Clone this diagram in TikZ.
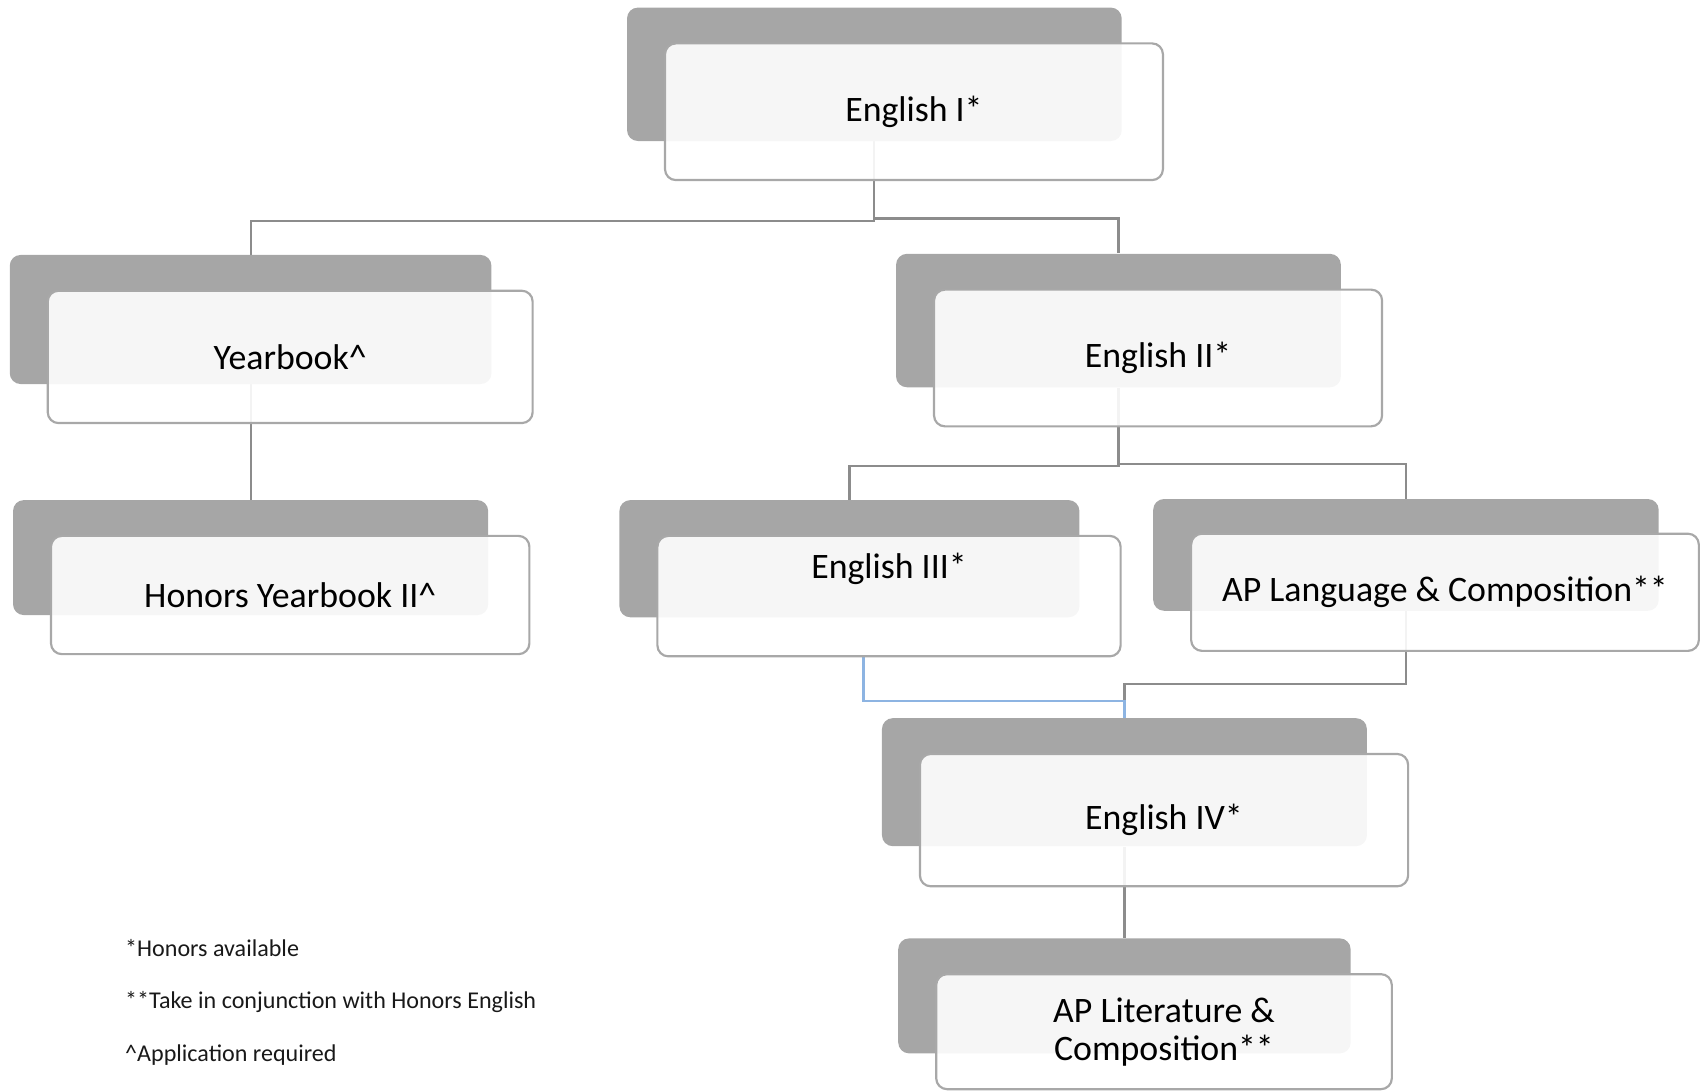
\documentclass[tikz,border=0pt]{standalone}
\usepackage{fontspec}
\setmainfont{Carlito}
\usetikzlibrary{backgrounds}
\definecolor{backgrey}{RGB}{166,166,166}
\definecolor{edgegrey}{RGB}{168,168,168}
\definecolor{linkgrey}{RGB}{140,140,140}
\definecolor{linkblue}{RGB}{141,180,226}
\tikzset{
    back/.style={fill=backgrey, rounded corners=5pt, inner sep=0pt},
    card/.style={draw=edgegrey, line width=1pt, fill=white, fill opacity=0.9, text opacity=1,
        rounded corners=5pt, inner sep=0pt, align=center, font=\fontsize{16.5}{17.5}\selectfont},
    lbl/.style={inner sep=0pt, font=\fontsize{16.5}{17.5}\selectfont},
    link/.style={draw=linkgrey, line width=1pt},
    note/.style={anchor=west, inner sep=0pt, text=black!90, font=\fontsize{11.1}{13}\selectfont}
}

\begin{document}
\begin{tikzpicture}[x=0.5pt,y=-0.5pt]
      \useasboundingbox (0,0) rectangle (1568,1006);
      \node[back, minimum width=228pt, minimum height=61.5pt] (e1b) at (806,68.5) {};
      \node[card, minimum width=229.5pt, minimum height=63pt] (e1w) at (842.5,103) {English I*};
      \node[back, minimum width=222pt, minimum height=59.5pt] (ybb) at (231,294.5) {};
      \node[card, minimum width=223.5pt, minimum height=61pt] (ybw) at (267.5,329) {Yearbook\textasciicircum};
      \node[back, minimum width=205pt, minimum height=61.5pt] (e2b) at (1031,295.5) {};
      \node[card, minimum width=206.5pt, minimum height=63pt] (e2w) at (1067.5,330) {English II*};
      \node[back, minimum width=219pt, minimum height=53pt] (hyb) at (231,514) {};
      \node[card, minimum width=220.5pt, minimum height=54.5pt] (hyw) at (267.5,548.5) {Honors Yearbook II\textasciicircum};
      \node[back, minimum width=212pt, minimum height=54pt] (e3b) at (783,515) {};
      \node[card, minimum width=213.5pt, minimum height=55.5pt] (e3w) at (819.5,549.5) {};
      \node[lbl] (e3t) at (819.5,524) {English III*};
      \node[back, minimum width=233pt, minimum height=51.5pt] (alb) at (1296,511.5) {};
      \node[card, minimum width=234pt, minimum height=54pt] (alw) at (1332,546) {AP Language \& Composition**};
      \node[back, minimum width=223.5pt, minimum height=59pt] (e4b) at (1036.5,721) {};
      \node[card, minimum width=225pt, minimum height=61pt] (e4w) at (1073,756) {English IV*};
      \node[back, minimum width=208.5pt, minimum height=53pt] (atb) at (1036.5,918) {};
      \node[card, minimum width=210pt, minimum height=53pt] (atw) at (1073,951) {AP Literature \&\\Composition**};
      \begin{scope}[on background layer]
        \draw[link] (e1b.south) -- ++(0,73) -| (ybb.north);
        \draw[link] (e1b.south) -- ++(0,71) -| (e2b.north);
        \draw[link] (ybb.south) -- (hyb.north);
        \draw[link] (e2b.south) -- ++(0,72) -| (e3b.north);
        \draw[link] (e2b.south) -- ++(0,70) -| (alb.north);
        \draw[link] (alb.south) -- ++(0,67) -| (e4b.north);
        \draw[link, draw=linkblue] ([xshift=-11.75pt]e3w.south) -- ++(0,40) -| (e4b.north);
        \draw[link] (e4b.south) -- (atb.north);
      \end{scope}
      \node[note] (n1) at (115,874) {*Honors available};
      \node[note] (n2) at (115,924) {**Take in conjunction with Honors English};
      \node[note] (n3) at (115,973) {\textasciicircum Application required};
    \end{tikzpicture}
\end{document}
